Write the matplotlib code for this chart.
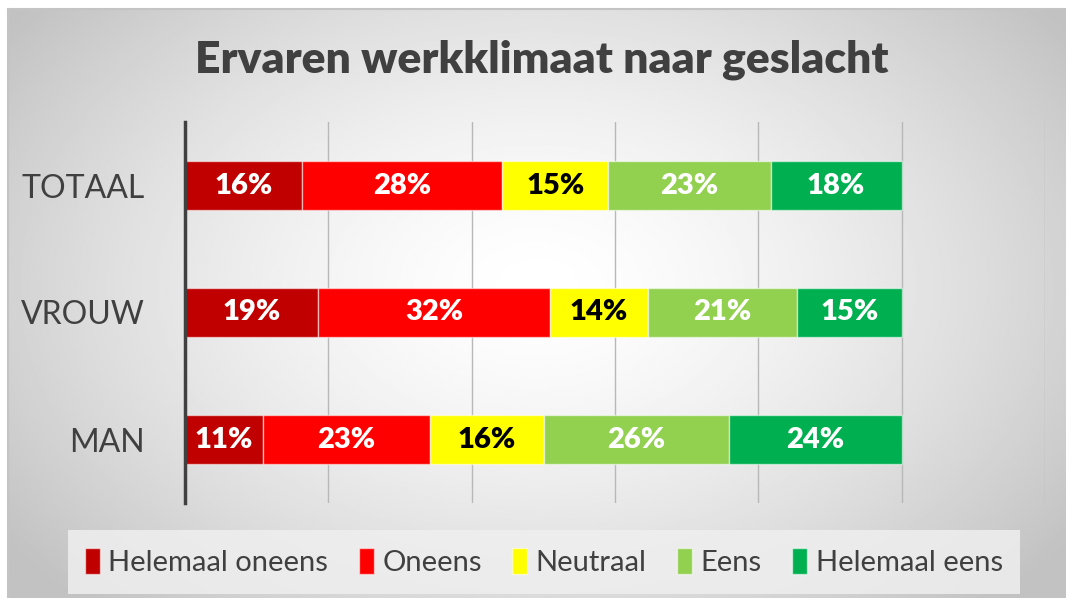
import numpy as np
import matplotlib
matplotlib.use('Agg')
import matplotlib.pyplot as plt

# data (percent per group)
groepen = ['MAN', 'VROUW', 'TOTAAL']
antwoorden = ['Helemaal oneens', 'Oneens', 'Neutraal', 'Eens', 'Helemaal eens']
helemaal_oneens = [10.9, 18.6, 16.3]
oneens = [23.3, 32.3, 28.0]
neutraal = [15.9, 13.7, 14.7]
eens = [25.8, 20.8, 22.7]
helemaal_eens = [24.1, 14.6, 18.3]

kleuren = ['#C00000', '#FF0000', '#FFFF00', '#92D050', '#00B050']
tekstkleuren = ['white', 'white', 'black', 'white', 'white']

plt.rcParams['font.family'] = ['Lato', 'DejaVu Sans']

W, H = 1066, 598
fig = plt.figure(figsize=(W / 100, H / 100), dpi=100)
fig.patch.set_facecolor('white')

# radial gradient background (white middle, grey edges)
bg = fig.add_axes([8 / W, 0, 1 - 8 / W, 1 - 9 / H])
yy, xx = np.mgrid[0:1:300j, 0:1:500j]
r = np.sqrt(((xx - 0.5) / 0.62) ** 2 + ((yy - 0.47) / 0.75) ** 2)
grad = 1.0 - 0.24 * np.clip(r, 0, 1) ** 1.5
bg.imshow(grad, cmap='gray', vmin=0, vmax=1, aspect='auto', extent=[0, 1, 0, 1],
          interpolation='bilinear')
bg.set_xticks([])
bg.set_yticks([])
for s in bg.spines.values():
    s.set_visible(False)
bg.spines['top'].set_visible(True)
bg.spines['left'].set_visible(True)
bg.spines['top'].set_color('#c4c4c4')
bg.spines['left'].set_color('#c4c4c4')
bg.spines['top'].set_linewidth(1.5)
bg.spines['left'].set_linewidth(1.5)

ax = fig.add_axes([185 / W, 95 / H, 860 / W, 381 / H])
ax.set_facecolor('none')

reeksen = [helemaal_oneens, oneens, neutraal, eens, helemaal_eens]
y = np.arange(len(groepen))
links = np.zeros(len(groepen))
for naam, waarden, kleur, tk in zip(antwoorden, reeksen, kleuren, tekstkleuren):
    balk = ax.barh(y, waarden, left=links, height=0.39, color=kleur, label=naam,
                   edgecolor=(1, 1, 1, 0.55), linewidth=1, zorder=3)
    ax.bar_label(balk, labels=[f'{round(v)}%' for v in waarden], label_type='center',
                 color=tk, fontsize=21, fontweight='heavy')
    links += np.array(waarden)

ax.set_xlim(0, 120)
ax.set_ylim(-0.5, 2.5)
ax.set_xticks(np.arange(20, 121, 20))
ax.xaxis.grid(True, color='#b8b8b8', linewidth=1, zorder=0)
ax.set_yticks(y)
ax.set_yticklabels(groepen, fontsize=23, color='#404040')
ax.tick_params(axis='x', length=0, labelbottom=False)
ax.tick_params(axis='y', length=0, pad=29)
for s in ['top', 'right', 'bottom']:
    ax.spines[s].set_visible(False)
ax.spines['left'].set_color('#404040')
ax.spines['left'].set_linewidth(2.5)
ax.spines['left'].set_zorder(4)

fig.text(542 / W, 1 - 60 / H, 'Ervaren werkklimaat naar geslacht', ha='center', va='center',
         fontsize=32, fontweight='heavy', color='#404040')

leg = fig.legend(loc='center', bbox_to_anchor=(544 / W, 1 - 562 / H), ncol=5,
                 fontsize=21, frameon=True, fancybox=False, handlelength=0.5,
                 handleheight=1.0, handletextpad=0.3, columnspacing=1.05,
                 borderpad=0.6)
leg.get_frame().set_facecolor('#efefef')
leg.get_frame().set_edgecolor('none')
leg.get_frame().set_alpha(0.85)
for t in leg.get_texts():
    t.set_color('#404040')

fig.savefig('out.png', dpi=100)
